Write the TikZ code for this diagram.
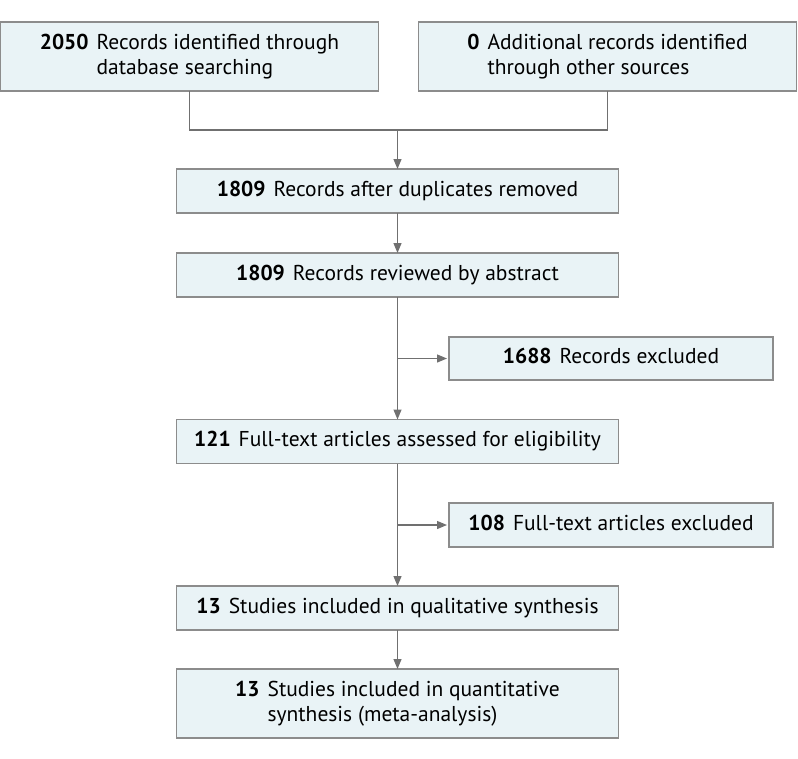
\documentclass[tikz,border=0pt]{standalone}
\usepackage{fontspec}
\setmainfont{PT Sans}
\usepackage{tikz}
\usetikzlibrary{arrows.meta,positioning}

\definecolor{boxfill}{HTML}{E9F3F6}
\definecolor{boxline}{HTML}{8C8C8C}
\definecolor{arrline}{HTML}{707070}

\newcommand{\cnt}[2]{\begin{tabular}{@{}l@{\hspace{8pt}}l@{}}\textbf{#1} & #2\end{tabular}}
\newcommand{\cntii}[3]{\begin{tabular}{@{}l@{\hspace{8pt}}l@{}}\textbf{#1} & #2\\ & #3\end{tabular}}

\begin{document}
\begin{tikzpicture}[
				x = 1pt, y = -1pt,
				every node/.style = {font = \fontsize{21.5}{25}\selectfont},
				flowbox/.style = {draw = boxline, fill = boxfill, line width = 1.2pt,
					inner sep = 0pt, outer sep = 0pt, minimum height = 44pt},
				arr/.style = {draw = arrline, line width = 1.2pt,
					-{Triangle[length = 10pt, width = 8pt]}},
				link/.style = {draw = arrline, line width = 1.2pt}
			]

			\useasboundingbox (0,0) rectangle (798,758);

			% sources
			\node[flowbox, minimum width = 378pt, minimum height = 69pt] (db) at (189.5,56.5)
				{\cntii{2050}{Records identified through}{database searching}};
			\node[flowbox, minimum width = 378pt, minimum height = 69pt] (other) at (607.5,56.5)
				{\cntii{0}{Additional records identified}{through other sources}};

			% main column
			\node[flowbox, minimum width = 442pt] (dup) at (397.5,191)
				{\cnt{1809}{Records after duplicates removed}};
			\node[flowbox, minimum width = 442pt] (abs) at (397.5,275)
				{\cnt{1809}{Records reviewed by abstract}};
			\node[flowbox, minimum width = 442pt] (full) at (397.5,441.5)
				{\cnt{121}{Full-text articles assessed for eligibility}};
			\node[flowbox, minimum width = 442pt] (qual) at (397.5,608)
				{\cnt{13}{Studies included in qualitative synthesis}};
			\node[flowbox, minimum width = 442pt, minimum height = 69pt] (quant) at (397.5,703.5)
				{\cntii{13}{Studies included in quantitative}{synthesis (meta-analysis)}};

			% exclusions
			\node[flowbox, minimum width = 324pt, minimum height = 43pt] (exA) at (611,358.5)
				{\cnt{1688}{Records excluded}};
			\node[flowbox, minimum width = 324pt] (exF) at (611,525)
				{\cnt{108}{Full-text articles excluded}};

			% joins
			\coordinate (mrg) at (397.5,130);
			\coordinate (brA) at (397.5,358.5);
			\coordinate (brF) at (397.5,525);

			\draw[link] (db.south) |- (mrg) -| (other.south);
			\draw[arr] (mrg) -- (dup.north);
			\draw[arr] (dup) -- (abs);
			\draw[arr] (abs) -- (full);
			\draw[arr, shorten > = 2pt] (brA) -- (exA.west);
			\draw[arr] (full) -- (qual);
			\draw[arr, shorten > = 2pt] (brF) -- (exF.west);
			\draw[arr] (qual) -- (quant);

\end{tikzpicture}
\end{document}
